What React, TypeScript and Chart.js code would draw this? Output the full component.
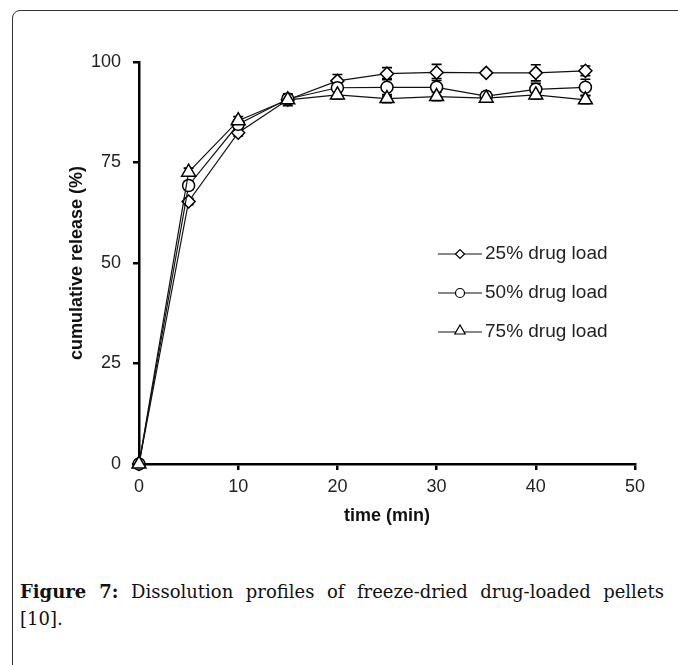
import React, { useEffect, useRef } from 'react';
import { Chart, registerables } from 'chart.js';

Chart.register(...registerables);

const times = [0, 5, 10, 15, 20, 25, 30, 35, 40, 45];
const load25 = [0, 65.3, 82.4, 90.6, 95.3, 97.1, 97.4, 97.3, 97.3, 97.8];
const load50 = [0, 69.3, 84.5, 90.8, 93.6, 93.7, 93.7, 91.5, 93.2, 93.7];
const load75 = [0, 72.6, 85.4, 90.6, 91.8, 90.9, 91.4, 91.0, 91.8, 90.6];
const err25 = [0, 0.8, 0.8, 1.0, 1.6, 1.5, 2.0, 0.5, 2.0, 1.2];
const err50 = [0, 1.0, 1.0, 1.0, 2.0, 2.2, 2.2, 1.0, 1.5, 2.0];
const err75 = [0, 1.0, 1.0, 1.5, 1.0, 1.0, 1.0, 1.0, 1.0, 1.0];
const seriesLabels = ['25% drug load', '50% drug load', '75% drug load'];
const seriesStyles = ['rectRot', 'circle', 'triangle'];
const xTicks = [0, 10, 20, 30, 40, 50];
const yTicks = [0, 25, 50, 75, 100];
const xTitle = 'time (min)';
const yTitle = 'cumulative release (%)';
const captionBold = 'Figure 7:';
const captionLine1 = ' Dissolution profiles of freeze-dried drug-loaded pellets';
const captionLine2 = '[10].';

const seriesValues = [load25, load50, load75];
const seriesErrors = [err25, err50, err75];

const SANS = '"Liberation Sans", Arial, sans-serif';

function drawMarker(ctx: CanvasRenderingContext2D, style: string, x: number, y: number, r: number) {
  ctx.beginPath();
  if (style === 'circle') {
    ctx.arc(x, y, r, 0, Math.PI * 2);
  } else if (style === 'rectRot') {
    ctx.moveTo(x - r, y);
    ctx.lineTo(x, y - r);
    ctx.lineTo(x + r, y);
    ctx.lineTo(x, y + r);
    ctx.closePath();
  } else {
    ctx.moveTo(x, y - r);
    ctx.lineTo(x + r * 0.866, y + r * 0.5);
    ctx.lineTo(x - r * 0.866, y + r * 0.5);
    ctx.closePath();
  }
  ctx.fill();
  ctx.stroke();
}

const errorBarPlugin = {
  id: 'errorBars',
  beforeDatasetsDraw(chart: any) {
    const { ctx, scales } = chart;
    const xs = scales.x;
    const ys = scales.y;
    ctx.save();
    ctx.strokeStyle = '#000';
    ctx.lineWidth = 1.6;
    seriesValues.forEach((vals, i) => {
      vals.forEach((v, j) => {
        const e = seriesErrors[i][j];
        if (!e) return;
        const px = xs.getPixelForValue(times[j]);
        const top = ys.getPixelForValue(v + e);
        const bot = ys.getPixelForValue(v - e);
        ctx.beginPath();
        ctx.moveTo(px, top);
        ctx.lineTo(px, bot);
        ctx.moveTo(px - 5, top);
        ctx.lineTo(px + 5, top);
        ctx.moveTo(px - 5, bot);
        ctx.lineTo(px + 5, bot);
        ctx.stroke();
      });
    });
    ctx.restore();
  },
};

const legendPlugin = {
  id: 'insideLegend',
  afterDraw(chart: any) {
    const { ctx, chartArea } = chart;
    const x0 = chartArea.left + 299;
    const x1 = x0 + 44;
    const xm = x0 + 22;
    const radii = [4.5, 4.5, 6];
    ctx.save();
    seriesLabels.forEach((label, i) => {
      const y = chartArea.top + 192 + i * 39;
      ctx.strokeStyle = '#111';
      ctx.lineWidth = 1.2;
      ctx.beginPath();
      ctx.moveTo(x0, y);
      ctx.lineTo(x1, y);
      ctx.stroke();
      ctx.fillStyle = '#fff';
      ctx.strokeStyle = '#000';
      ctx.lineWidth = 1.2;
      drawMarker(ctx, seriesStyles[i], xm, i === 2 ? y - 1 : y, radii[i]);
      ctx.fillStyle = '#222';
      ctx.font = '19px ' + SANS;
      ctx.textBaseline = 'middle';
      ctx.textAlign = 'left';
      ctx.fillText(label, x1 + 3, y);
    });
    ctx.restore();
  },
};

export default function App() {
  const canvasRef = useRef<HTMLCanvasElement | null>(null);

  useEffect(() => {
    const canvas = canvasRef.current;
    if (!canvas) return;
    const radii = [6.5, 6, 8];
    const chart = new Chart(canvas, {
      type: 'line',
      data: {
        datasets: seriesValues.map((vals, i) => ({
          label: seriesLabels[i],
          data: vals.map((v, j) => ({ x: times[j], y: v })),
          borderColor: '#111',
          borderWidth: 1.2,
          pointStyle: seriesStyles[i] as any,
          pointRadius: radii[i],
          pointBackgroundColor: '#fff',
          pointBorderColor: '#000',
          pointBorderWidth: 1.5,
          fill: false,
          tension: 0,
          clip: false as any,
          order: 3 - i,
        })),
      },
      options: {
        animation: false,
        responsive: true,
        maintainAspectRatio: false,
        layout: { padding: { left: 60, right: 43, top: 62, bottom: 32 } },
        plugins: {
          legend: { display: false },
          tooltip: { enabled: false },
        },
        scales: {
          x: {
            type: 'linear',
            min: 0,
            max: 50,
            afterBuildTicks: (s: any) => {
              s.ticks = xTicks.map((v) => ({ value: v }));
            },
            afterFit: (s: any) => {
              s.height = 64;
            },
            grid: {
              display: true,
              drawOnChartArea: false,
              drawTicks: true,
              tickLength: 6,
              color: '#000',
              lineWidth: 2.5,
            },
            border: { display: true, color: '#000', width: 2.5 },
            ticks: {
              color: '#222',
              padding: 6,
              font: { family: SANS, size: 18 },
              maxRotation: 0,
            },
            title: {
              display: true,
              text: xTitle,
              color: '#111',
              font: { family: SANS, size: 18, weight: 'bold' },
              padding: { top: 0, bottom: 1 },
            },
          },
          y: {
            type: 'linear',
            min: 0,
            max: 100,
            afterBuildTicks: (s: any) => {
              s.ticks = yTicks.map((v) => ({ value: v }));
            },
            afterFit: (s: any) => {
              s.width = 79;
            },
            grid: {
              display: true,
              drawOnChartArea: false,
              drawTicks: true,
              tickLength: 6,
              color: '#000',
              lineWidth: 2.5,
            },
            border: { display: true, color: '#000', width: 2.5 },
            ticks: {
              color: '#222',
              padding: 12,
              font: { family: SANS, size: 18 },
            },
            title: {
              display: true,
              text: yTitle,
              color: '#111',
              font: { family: SANS, size: 18, weight: 'bold' },
              padding: { top: 6, bottom: 0 },
            },
          },
        },
      },
      plugins: [errorBarPlugin, legendPlugin],
    });
    return () => chart.destroy();
  }, []);

  return (
    <div
      style={{
        position: 'absolute',
        left: 0,
        top: 0,
        width: 678,
        height: 665,
        overflow: 'hidden',
        background: '#fff',
      }}
    >
      <div
        style={{
          position: 'absolute',
          left: 12,
          top: 10,
          width: 720,
          height: 720,
          border: '1.5px solid #333',
          borderTopLeftRadius: 8,
          boxSizing: 'border-box',
        }}
      />
      <div style={{ position: 'absolute', left: 0, top: 0, width: 678, height: 560 }}>
        <canvas ref={canvasRef} />
      </div>
      <div
        style={{
          position: 'absolute',
          left: 20,
          top: 578,
          width: 644,
          fontFamily: '"DejaVu Serif", "Liberation Serif", serif',
          fontSize: 18,
          lineHeight: '27px',
          color: '#111',
        }}
      >
        <div style={{ textAlign: 'justify', textAlignLast: 'justify' as any }}>
          <b>{captionBold}</b>
          {captionLine1}
        </div>
        <div>{captionLine2}</div>
      </div>
    </div>
  );
}
